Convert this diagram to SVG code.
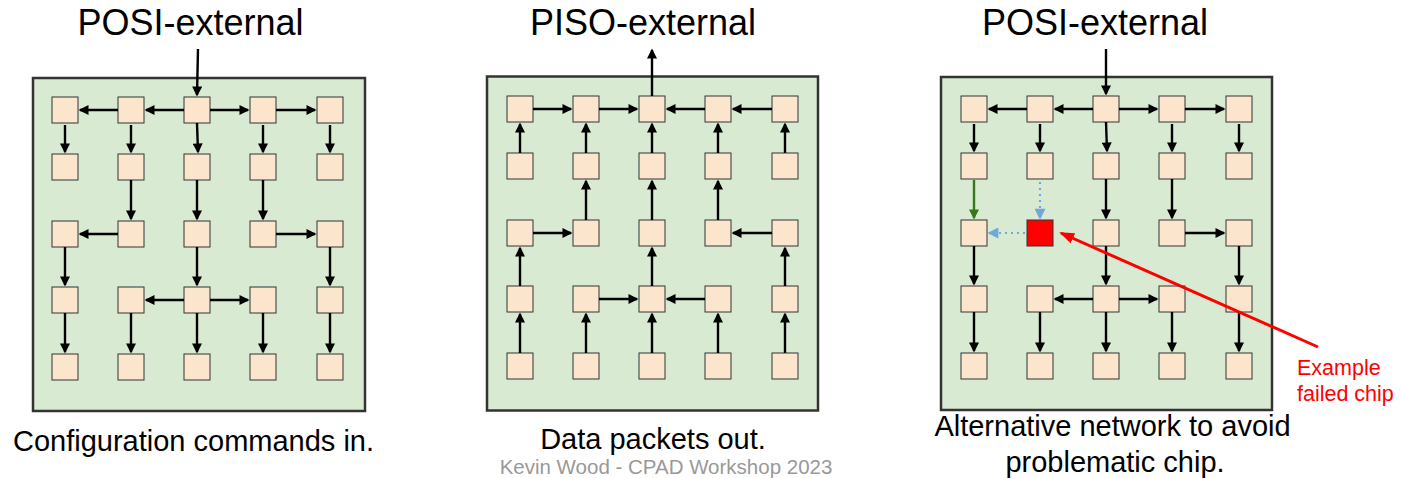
<svg xmlns="http://www.w3.org/2000/svg" width="1401" height="478" viewBox="0 0 1401 478">
<style>
.bg{fill:#d9ead3;stroke:#333;stroke-width:2.5}
.n{fill:#fce5cd;stroke:#333;stroke-width:1}
.f{fill:#ff0000;stroke:#333;stroke-width:1}
.e{stroke:#000;stroke-width:2.4;fill:none;marker-end:url(#ah)}
.g{stroke:#38761d;stroke-width:2.4;fill:none;marker-end:url(#ahg)}
.b{stroke:#6fa8dc;stroke-width:2.2;fill:none;stroke-dasharray:2 4;marker-end:url(#ahb)}
.t{font-family:"Liberation Sans",Arial,sans-serif;fill:#000}
.title{font-size:36px;text-anchor:middle}
.cap{font-size:29px;text-anchor:middle}
</style>
<defs>
<marker id="ah" viewBox="0 0 10 10" refX="8.5" refY="5" markerWidth="13" markerHeight="10" markerUnits="userSpaceOnUse" orient="auto"><path d="M0,0 L10,5 L0,10 z" fill="#000"/></marker>
<marker id="ahg" viewBox="0 0 10 10" refX="8.5" refY="5" markerWidth="13" markerHeight="10" markerUnits="userSpaceOnUse" orient="auto"><path d="M0,0 L10,5 L0,10 z" fill="#38761d"/></marker>
<marker id="ahb" viewBox="0 0 10 10" refX="8.5" refY="5" markerWidth="13" markerHeight="11" markerUnits="userSpaceOnUse" orient="auto"><path d="M0,0 L10,5 L0,10 z" fill="#6fa8dc"/></marker>
<marker id="ahr" viewBox="0 0 15 11" refX="13" refY="5.5" markerWidth="15" markerHeight="11" markerUnits="userSpaceOnUse" orient="auto"><path d="M0,0 L15,5.5 L0,11 z" fill="#ff0000"/></marker>
</defs>
<rect width="1401" height="478" fill="#fff"/>

<!-- titles -->
<text class="t title" x="190.5" y="35">POSI-external</text>
<text class="t title" x="643" y="35">PISO-external</text>
<text class="t title" x="1095" y="35">POSI-external</text>

<!-- panel backgrounds -->
<rect class="bg" x="33" y="78" width="332" height="333"/>
<rect class="bg" x="487" y="76.5" width="331" height="334"/>
<rect class="bg" x="941" y="77" width="331" height="333"/>

<!-- PANEL 1 -->
<g id="panel1" transform="translate(52,97)">
<g id="p1-nodes">
<g id="p1-r0c0"><rect class="n" x="0" y="0" width="26" height="26"/></g>
<g id="p1-r0c1"><rect class="n" x="66" y="0" width="26" height="26"/></g>
<g id="p1-r0c2"><rect class="n" x="132" y="0" width="26" height="26"/></g>
<g id="p1-r0c3"><rect class="n" x="198" y="0" width="26" height="26"/></g>
<g id="p1-r0c4"><rect class="n" x="265" y="0" width="26" height="26"/></g>
<g id="p1-r1c0"><rect class="n" x="0" y="57" width="26" height="26"/></g>
<g id="p1-r1c1"><rect class="n" x="66" y="57" width="26" height="26"/></g>
<g id="p1-r1c2"><rect class="n" x="132" y="57" width="26" height="26"/></g>
<g id="p1-r1c3"><rect class="n" x="198" y="57" width="26" height="26"/></g>
<g id="p1-r1c4"><rect class="n" x="265" y="57" width="26" height="26"/></g>
<g id="p1-r2c0"><rect class="n" x="0" y="124" width="26" height="26"/></g>
<g id="p1-r2c1"><rect class="n" x="66" y="124" width="26" height="26"/></g>
<g id="p1-r2c2"><rect class="n" x="132" y="124" width="26" height="26"/></g>
<g id="p1-r2c3"><rect class="n" x="198" y="124" width="26" height="26"/></g>
<g id="p1-r2c4"><rect class="n" x="265" y="124" width="26" height="26"/></g>
<g id="p1-r3c0"><rect class="n" x="0" y="190" width="26" height="26"/></g>
<g id="p1-r3c1"><rect class="n" x="66" y="190" width="26" height="26"/></g>
<g id="p1-r3c2"><rect class="n" x="132" y="190" width="26" height="26"/></g>
<g id="p1-r3c3"><rect class="n" x="198" y="190" width="26" height="26"/></g>
<g id="p1-r3c4"><rect class="n" x="265" y="190" width="26" height="26"/></g>
<g id="p1-r4c0"><rect class="n" x="0" y="257" width="26" height="26"/></g>
<g id="p1-r4c1"><rect class="n" x="66" y="257" width="26" height="26"/></g>
<g id="p1-r4c2"><rect class="n" x="132" y="257" width="26" height="26"/></g>
<g id="p1-r4c3"><rect class="n" x="198" y="257" width="26" height="26"/></g>
<g id="p1-r4c4"><rect class="n" x="265" y="257" width="26" height="26"/></g>
</g>
<g id="p1-connectors">
<line class="e" x1="146" y1="-48" x2="145" y2="-2"/>
<line class="e" x1="132" y1="13" x2="94" y2="13"/>
<line class="e" x1="66" y1="13" x2="28" y2="13"/>
<line class="e" x1="158" y1="13" x2="196" y2="13"/>
<line class="e" x1="224" y1="13" x2="263" y2="13"/>
<line class="e" x1="13" y1="28" x2="13" y2="55"/>
<line class="e" x1="79" y1="28" x2="79" y2="55"/>
<line class="e" x1="145" y1="26" x2="146" y2="55"/>
<line class="e" x1="211" y1="28" x2="211" y2="55"/>
<line class="e" x1="278" y1="28" x2="278" y2="55"/>
<line class="e" x1="79" y1="83" x2="79" y2="122"/>
<line class="e" x1="145" y1="83" x2="145" y2="122"/>
<line class="e" x1="211" y1="83" x2="211" y2="122"/>
<line class="e" x1="66" y1="137" x2="28" y2="137"/>
<line class="e" x1="224" y1="137" x2="263" y2="137"/>
<line class="e" x1="13" y1="150" x2="13" y2="188"/>
<line class="e" x1="145" y1="150" x2="145" y2="188"/>
<line class="e" x1="278" y1="150" x2="278" y2="188"/>
<line class="e" x1="132" y1="203" x2="94" y2="203"/>
<line class="e" x1="158" y1="203" x2="196" y2="203"/>
<line class="e" x1="13" y1="216" x2="13" y2="255"/>
<line class="e" x1="79" y1="216" x2="79" y2="255"/>
<line class="e" x1="145" y1="216" x2="145" y2="255"/>
<line class="e" x1="211" y1="216" x2="211" y2="255"/>
<line class="e" x1="278" y1="216" x2="278" y2="255"/>
</g>
</g>

<!-- PANEL 2 -->
<g id="panel2" transform="translate(507,96)">
<g id="p2-nodes">
<g id="p2-r0c0"><rect class="n" x="0" y="0" width="26" height="26"/></g>
<g id="p2-r0c1"><rect class="n" x="66" y="0" width="26" height="26"/></g>
<g id="p2-r0c2"><rect class="n" x="132" y="0" width="26" height="26"/></g>
<g id="p2-r0c3"><rect class="n" x="198" y="0" width="26" height="26"/></g>
<g id="p2-r0c4"><rect class="n" x="265" y="0" width="26" height="26"/></g>
<g id="p2-r1c0"><rect class="n" x="0" y="57" width="26" height="26"/></g>
<g id="p2-r1c1"><rect class="n" x="66" y="57" width="26" height="26"/></g>
<g id="p2-r1c2"><rect class="n" x="132" y="57" width="26" height="26"/></g>
<g id="p2-r1c3"><rect class="n" x="198" y="57" width="26" height="26"/></g>
<g id="p2-r1c4"><rect class="n" x="265" y="57" width="26" height="26"/></g>
<g id="p2-r2c0"><rect class="n" x="0" y="124" width="26" height="26"/></g>
<g id="p2-r2c1"><rect class="n" x="66" y="124" width="26" height="26"/></g>
<g id="p2-r2c2"><rect class="n" x="132" y="124" width="26" height="26"/></g>
<g id="p2-r2c3"><rect class="n" x="198" y="124" width="26" height="26"/></g>
<g id="p2-r2c4"><rect class="n" x="265" y="124" width="26" height="26"/></g>
<g id="p2-r3c0"><rect class="n" x="0" y="190" width="26" height="26"/></g>
<g id="p2-r3c1"><rect class="n" x="66" y="190" width="26" height="26"/></g>
<g id="p2-r3c2"><rect class="n" x="132" y="190" width="26" height="26"/></g>
<g id="p2-r3c3"><rect class="n" x="198" y="190" width="26" height="26"/></g>
<g id="p2-r3c4"><rect class="n" x="265" y="190" width="26" height="26"/></g>
<g id="p2-r4c0"><rect class="n" x="0" y="257" width="26" height="26"/></g>
<g id="p2-r4c1"><rect class="n" x="66" y="257" width="26" height="26"/></g>
<g id="p2-r4c2"><rect class="n" x="132" y="257" width="26" height="26"/></g>
<g id="p2-r4c3"><rect class="n" x="198" y="257" width="26" height="26"/></g>
<g id="p2-r4c4"><rect class="n" x="265" y="257" width="26" height="26"/></g>
</g>
<g id="p2-connectors">
<line class="e" x1="145" y1="0" x2="145" y2="-46"/>
<line class="e" x1="26" y1="13" x2="64" y2="13"/>
<line class="e" x1="92" y1="13" x2="130" y2="13"/>
<line class="e" x1="265" y1="13" x2="226" y2="13"/>
<line class="e" x1="198" y1="13" x2="160" y2="13"/>
<line class="e" x1="13" y1="57" x2="13" y2="28"/>
<line class="e" x1="79" y1="57" x2="79" y2="28"/>
<line class="e" x1="145" y1="57" x2="145" y2="28"/>
<line class="e" x1="211" y1="57" x2="211" y2="28"/>
<line class="e" x1="278" y1="57" x2="278" y2="28"/>
<line class="e" x1="79" y1="124" x2="79" y2="85"/>
<line class="e" x1="145" y1="124" x2="145" y2="85"/>
<line class="e" x1="211" y1="124" x2="211" y2="85"/>
<line class="e" x1="26" y1="137" x2="64" y2="137"/>
<line class="e" x1="265" y1="137" x2="226" y2="137"/>
<line class="e" x1="13" y1="190" x2="13" y2="152"/>
<line class="e" x1="145" y1="190" x2="145" y2="152"/>
<line class="e" x1="278" y1="190" x2="278" y2="152"/>
<line class="e" x1="92" y1="203" x2="130" y2="203"/>
<line class="e" x1="198" y1="203" x2="160" y2="203"/>
<line class="e" x1="13" y1="257" x2="13" y2="218"/>
<line class="e" x1="79" y1="257" x2="79" y2="218"/>
<line class="e" x1="145" y1="257" x2="145" y2="218"/>
<line class="e" x1="211" y1="257" x2="211" y2="218"/>
<line class="e" x1="278" y1="257" x2="278" y2="218"/>
</g>
</g>

<!-- PANEL 3 -->
<g id="panel3" transform="translate(961,96)">
<g id="p3-nodes">
<g id="p3-r0c0"><rect class="n" x="0" y="0" width="26" height="26"/></g>
<g id="p3-r0c1"><rect class="n" x="66" y="0" width="26" height="26"/></g>
<g id="p3-r0c2"><rect class="n" x="132" y="0" width="26" height="26"/></g>
<g id="p3-r0c3"><rect class="n" x="198" y="0" width="26" height="26"/></g>
<g id="p3-r0c4"><rect class="n" x="265" y="0" width="26" height="26"/></g>
<g id="p3-r1c0"><rect class="n" x="0" y="57" width="26" height="26"/></g>
<g id="p3-r1c1"><rect class="n" x="66" y="57" width="26" height="26"/></g>
<g id="p3-r1c2"><rect class="n" x="132" y="57" width="26" height="26"/></g>
<g id="p3-r1c3"><rect class="n" x="198" y="57" width="26" height="26"/></g>
<g id="p3-r1c4"><rect class="n" x="265" y="57" width="26" height="26"/></g>
<g id="p3-r2c0"><rect class="n" x="0" y="124" width="26" height="26"/></g>
<g id="p3-r2c1"><rect class="f" x="66" y="124" width="26" height="26"/></g>
<g id="p3-r2c2"><rect class="n" x="132" y="124" width="26" height="26"/></g>
<g id="p3-r2c3"><rect class="n" x="198" y="124" width="26" height="26"/></g>
<g id="p3-r2c4"><rect class="n" x="265" y="124" width="26" height="26"/></g>
<g id="p3-r3c0"><rect class="n" x="0" y="190" width="26" height="26"/></g>
<g id="p3-r3c1"><rect class="n" x="66" y="190" width="26" height="26"/></g>
<g id="p3-r3c2"><rect class="n" x="132" y="190" width="26" height="26"/></g>
<g id="p3-r3c3"><rect class="n" x="198" y="190" width="26" height="26"/></g>
<g id="p3-r3c4"><rect class="n" x="265" y="190" width="26" height="26"/></g>
<g id="p3-r4c0"><rect class="n" x="0" y="257" width="26" height="26"/></g>
<g id="p3-r4c1"><rect class="n" x="66" y="257" width="26" height="26"/></g>
<g id="p3-r4c2"><rect class="n" x="132" y="257" width="26" height="26"/></g>
<g id="p3-r4c3"><rect class="n" x="198" y="257" width="26" height="26"/></g>
<g id="p3-r4c4"><rect class="n" x="265" y="257" width="26" height="26"/></g>
</g>
<g id="p3-connectors">
<line class="e" x1="145" y1="-47" x2="145" y2="-2"/>
<line class="e" x1="132" y1="13" x2="94" y2="13"/>
<line class="e" x1="66" y1="13" x2="28" y2="13"/>
<line class="e" x1="158" y1="13" x2="196" y2="13"/>
<line class="e" x1="224" y1="13" x2="263" y2="13"/>
<line class="e" x1="13" y1="28" x2="13" y2="55"/>
<line class="e" x1="79" y1="28" x2="79" y2="55"/>
<line class="e" x1="145" y1="26" x2="146" y2="55"/>
<line class="e" x1="211" y1="28" x2="211" y2="55"/>
<line class="e" x1="278" y1="28" x2="278" y2="55"/>
<line class="g" x1="13" y1="84" x2="13" y2="122"/>
<line class="b" x1="79" y1="86" x2="79" y2="122"/>
<line class="e" x1="145" y1="83" x2="145" y2="122"/>
<line class="e" x1="211" y1="83" x2="211" y2="122"/>
<line class="b" x1="64" y1="137" x2="28" y2="137"/>
<line class="e" x1="224" y1="137" x2="263" y2="137"/>
<line class="e" x1="13" y1="150" x2="13" y2="188"/>
<line class="e" x1="145" y1="150" x2="145" y2="188"/>
<line class="e" x1="278" y1="150" x2="278" y2="188"/>
<line class="e" x1="132" y1="203" x2="94" y2="203"/>
<line class="e" x1="158" y1="203" x2="196" y2="203"/>
<line class="e" x1="13" y1="216" x2="13" y2="255"/>
<line class="e" x1="79" y1="216" x2="79" y2="255"/>
<line class="e" x1="145" y1="216" x2="145" y2="255"/>
<line class="e" x1="211" y1="216" x2="211" y2="255"/>
<line class="e" x1="278" y1="216" x2="278" y2="255"/>
</g>
</g>

<!-- failed-chip pointer -->
<g id="failed-pointer">
<line x1="1318" y1="347" x2="1061" y2="233" stroke="#ff0000" stroke-width="3" marker-end="url(#ahr)"/>
</g>
<g id="failed-label">
<text class="t" x="1297" y="375" font-size="21.5" style="fill:#ff0000">Example</text>
<text class="t" x="1297" y="401" font-size="21.5" style="fill:#ff0000">failed chip</text>
</g>

<!-- captions -->
<text class="t cap" x="193.5" y="451">Configuration commands in.</text>
<text class="t cap" x="653" y="448.5">Data packets out.</text>
<text class="t" x="666" y="473.8" font-size="20.5" text-anchor="middle" style="fill:#999">Kevin Wood - CPAD Workshop 2023</text>
<text class="t cap" x="1112.5" y="436">Alternative network to avoid</text>
<text class="t cap" x="1115" y="472">problematic chip.</text>
</svg>
